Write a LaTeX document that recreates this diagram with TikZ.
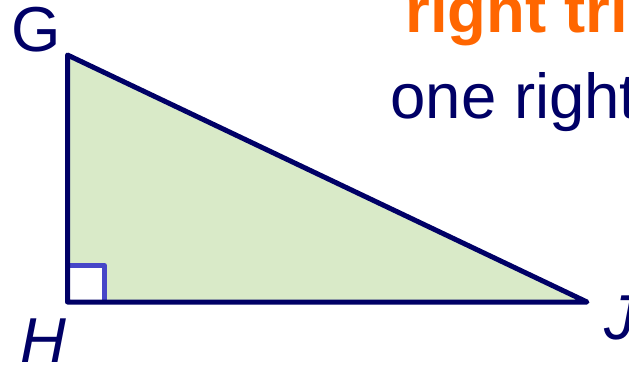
\documentclass[tikz,border=0pt]{standalone}
\usepackage{fontspec}
\setmainfont{Liberation Sans}
\definecolor{navy}{RGB}{0,0,102}
\definecolor{leaf}{RGB}{217,234,200}
\definecolor{markblue}{RGB}{70,70,200}
\definecolor{titleorange}{RGB}{255,102,0}
\tikzset{
  lbl/.style={inner sep=0pt, outer sep=0pt, text=navy, font=\fontsize{63.5}{72}\selectfont},
  side/.style={draw=navy, line width=5pt, line join=round},
}
\begin{document}
\begin{tikzpicture}[x=1pt, y=-1pt]
\useasboundingbox (0,0) rectangle (629,366);
\clip (0,0) rectangle (629,366);
\coordinate (G) at (67.5,55);
\coordinate (H) at (67.5,302);
\coordinate (J) at (587,302);
\coordinate (A1) at (67.5,265.5);
\coordinate (A2) at (104.5,265.5);
\coordinate (A3) at (104.5,302);
\fill[leaf] (G) -- (H) -- (J) -- cycle;
\fill[white] (H) -- (A1) -- (A2) -- (A3) -- cycle;
\draw[markblue, line width=5pt, line join=round] (A1) -- (A2) -- (A3);
\draw[side] (G) -- (H) -- (J) -- cycle;
\node[lbl, anchor=base] (lG) at (36,52) {G};
\node[lbl, anchor=base west] (lH) at (20,362) {\itshape H};
\node[lbl, anchor=base west] (lJ) at (604,339) {\itshape J};
\node[lbl, anchor=base west, text=titleorange, font=\fontsize{63.5}{72}\selectfont\bfseries] (title) at (405.5,33) {right tri};
\node[lbl, anchor=base west] (sub) at (390.5,119) {one right};
\end{tikzpicture}
\end{document}
